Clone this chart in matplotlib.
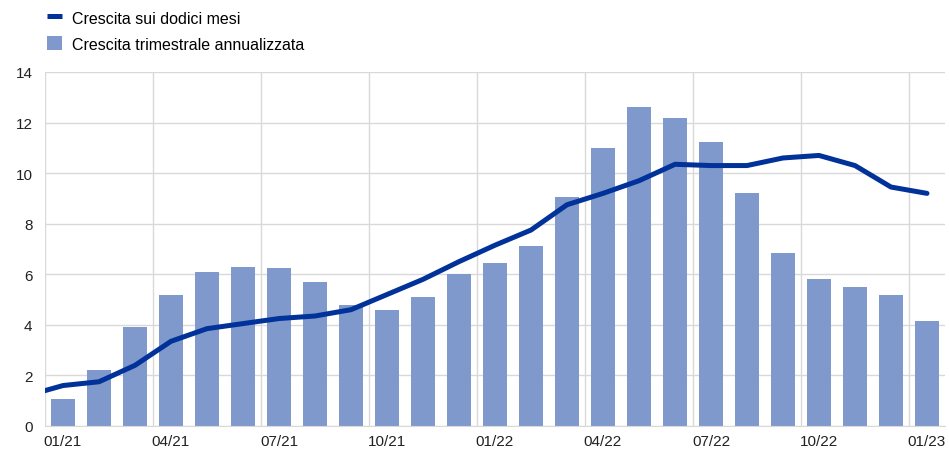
import numpy as np
import matplotlib.pyplot as plt
from matplotlib.ticker import FixedLocator

plt.rcParams['font.family'] = ['Liberation Sans', 'DejaVu Sans']

# monthly data, 01/21 .. 01/23
months = ['01/21', '02/21', '03/21', '04/21', '05/21', '06/21', '07/21', '08/21', '09/21',
          '10/21', '11/21', '12/21', '01/22', '02/22', '03/22', '04/22', '05/22', '06/22',
          '07/22', '08/22', '09/22', '10/22', '11/22', '12/22', '01/23']
quarterly_ann = [1.05, 2.2, 3.9, 5.2, 6.1, 6.3, 6.25, 5.7, 4.8, 4.6, 5.1, 6.0, 6.45,
                 7.1, 9.05, 11.0, 12.6, 12.2, 11.25, 9.2, 6.85, 5.8, 5.5, 5.2, 4.15]
# first value is the end of 12/20, drawn at the left edge
twelve_month = [1.4, 1.6, 1.75, 2.4, 3.35, 3.85, 4.05, 4.25, 4.35, 4.6, 5.2, 5.8, 6.5,
                7.15, 7.75, 8.75, 9.2, 9.7, 10.35, 10.3, 10.3, 10.6, 10.7, 10.3, 9.45, 9.2]

x = np.arange(len(months))
x_line = np.r_[-0.5, x]

fig = plt.figure(figsize=(9.49, 4.52), dpi=100)
ax = fig.add_axes([45 / 949, 1 - 427 / 452, 900 / 949, 354 / 452])

bars = ax.bar(x, quarterly_ann, width=0.67, color='#7f99cc', zorder=2)
line, = ax.plot(x_line, twelve_month, color='#003299', lw=3.6, zorder=3,
                solid_capstyle='round', solid_joinstyle='round')

ax.set_xlim(-0.5, 24.5)
ax.set_ylim(0, 14)
ax.set_yticks(np.arange(0, 15, 2))
ax.set_xticks(x[::3])
ax.set_xticklabels(months[::3])
ax.xaxis.set_minor_locator(FixedLocator(np.arange(-0.5, 24, 3)))

ax.grid(axis='y', color='#d9d9d9', lw=1, zorder=2.5)
ax.grid(axis='x', which='minor', color='#d9d9d9', lw=1, zorder=1)
ax.tick_params(which='both', length=0, labelsize=11, colors='#222222')
ax.tick_params(axis='x', pad=6)
ax.tick_params(axis='y', pad=9)
for s in ['top', 'right', 'left']:
    ax.spines[s].set_visible(False)
ax.spines['bottom'].set_color('#d9d9d9')

leg = fig.legend([line, bars], ['Crescita sui dodici mesi', 'Crescita trimestrale annualizzata'],
                 loc='upper left', bbox_to_anchor=(39 / 949, 1 - 3 / 452),
                 frameon=False, fontsize=11.5, handlelength=0.95, handleheight=1.0,
                 handletextpad=0.6, labelspacing=0.65, borderaxespad=0.1)
leg.get_lines()[0].set_solid_capstyle('butt')

fig.savefig('out.png', dpi=100)
